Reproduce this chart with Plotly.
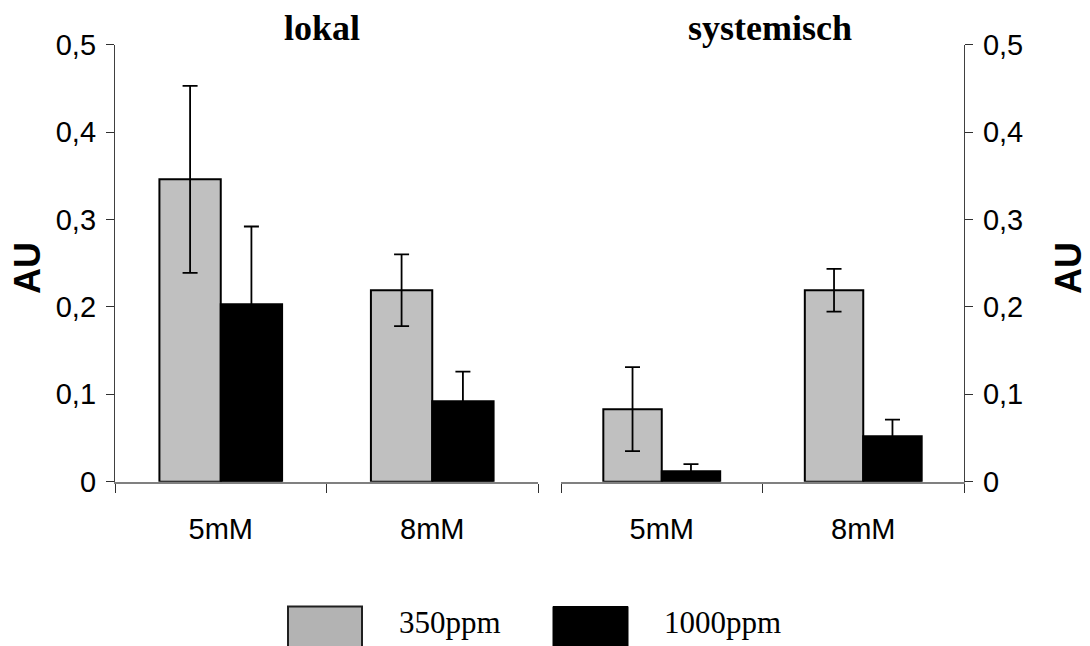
import plotly.graph_objects as go

# Data
categories = ["5mM", "8mM"]
series_names = ["350ppm", "1000ppm"]

lokal_350 = [0.346, 0.219]
lokal_350_err = [0.107, 0.041]
lokal_1000 = [0.203, 0.092]
lokal_1000_err = [0.089, 0.034]

syst_350 = [0.083, 0.219]
syst_350_err = [0.048, 0.0245]
syst_1000 = [0.012, 0.052]
syst_1000_err = [0.008, 0.019]

y_tickvals = [0, 0.1, 0.2, 0.3, 0.4, 0.5]
y_ticktext = ["0", "0,1", "0,2", "0,3", "0,4", "0,5"]

panel_titles = ["lokal", "systemisch"]
y_title = "AU"

# Styling
W, H = 1090, 646
GRAY = "#c0c0c0"
BLACK = "#000000"
SANS = "Liberation Sans, Arial, sans-serif"
SERIF = "Liberation Serif, Times New Roman, serif"


def px_x(x):
    return x / W


def px_y(y):
    return (H - y) / H


fig = go.Figure()


def add_pair(xa, ya, v350, e350, v1000, e1000):
    for vals, errs, color, name in ((v350, e350, GRAY, series_names[0]),
                                    (v1000, e1000, BLACK, series_names[1])):
        fig.add_trace(go.Bar(
            x=categories, y=vals, name=name, xaxis=xa, yaxis=ya,
            offsetgroup=name,
            marker=dict(color=color, line=dict(color="#000000", width=2)),
            error_y=dict(type="data", array=errs, visible=True,
                         color="#000000", thickness=1.8, width=7.5),
            showlegend=False,
        ))


add_pair("x", "y", lokal_350, lokal_350_err, lokal_1000, lokal_1000_err)
add_pair("x2", "y2", syst_350, syst_350_err, syst_1000, syst_1000_err)

y_domain = [px_y(481.7), px_y(44.7)]

xaxis_common = dict(
    type="category", range=[-0.5, 1.5], tickson="boundaries",
    ticks="outside", ticklen=9, tickcolor="#303030", tickwidth=1.3,
    showline=True, linecolor="#808080", linewidth=2,
    showgrid=False, zeroline=False, automargin=False,
    tickfont=dict(family=SANS, size=29, color="#000000"),
    ticklabelstandoff=20,
)
yaxis_common = dict(
    range=[0, 0.5], tickvals=y_tickvals, ticktext=y_ticktext,
    ticks="outside", ticklen=8, tickcolor="#303030", tickwidth=1.3,
    showline=True, linecolor="#404040", linewidth=1.3,
    showgrid=False, zeroline=False, automargin=False,
    tickfont=dict(family=SANS, size=29, color="#000000"),
    ticklabelstandoff=4,
    domain=y_domain,
)

fig.update_layout(
    width=W, height=H,
    margin=dict(l=0, r=0, t=0, b=0, pad=0, autoexpand=False),
    paper_bgcolor="white", plot_bgcolor="white",
    barmode="group", bargap=0.42, bargroupgap=0,
    showlegend=False,
    xaxis=dict(xaxis_common, domain=[px_x(115), px_x(538)], anchor="y"),
    xaxis2=dict(xaxis_common, domain=[px_x(561), px_x(964)], anchor="y2"),
    yaxis=dict(yaxis_common, anchor="x", side="left"),
    yaxis2=dict(yaxis_common, anchor="x2", side="right"),
)

# Panel titles and axis titles
annotations = [
    dict(text=f"<b>{panel_titles[0]}</b>", x=px_x(321.5), y=px_y(28),
         font=dict(family=SERIF, size=36, color="#000000")),
    dict(text=f"<b>{panel_titles[1]}</b>", x=px_x(770), y=px_y(28),
         font=dict(family=SERIF, size=36, color="#000000")),
    dict(text=f"<b>{y_title}</b>", x=px_x(27), y=px_y(268), textangle=-90,
         font=dict(family=SANS, size=36, color="#000000")),
    dict(text=f"<b>{y_title}</b>", x=px_x(1068), y=px_y(268), textangle=-90,
         font=dict(family=SANS, size=36, color="#000000")),
    dict(text=series_names[0], x=px_x(397), y=px_y(622), xanchor="left",
         font=dict(family=SERIF, size=31, color="#000000")),
    dict(text=series_names[1], x=px_x(662), y=px_y(622), xanchor="left",
         font=dict(family=SERIF, size=31, color="#000000")),
]
for a in annotations:
    a.setdefault("xanchor", "center")
    a.update(xref="paper", yref="paper", yanchor="middle", showarrow=False)
fig.update_layout(annotations=annotations)

# Legend swatches
fig.update_layout(shapes=[
    dict(type="rect", xref="paper", yref="paper",
         x0=px_x(288), x1=px_x(362), y0=px_y(660), y1=px_y(606.5),
         fillcolor="#b3b3b3", line=dict(color="#202020", width=2)),
    dict(type="rect", xref="paper", yref="paper",
         x0=px_x(553), x1=px_x(628), y0=px_y(660), y1=px_y(606.5),
         fillcolor="#000000", line=dict(color="#000000", width=1)),
])

fig.write_html("out.html")
